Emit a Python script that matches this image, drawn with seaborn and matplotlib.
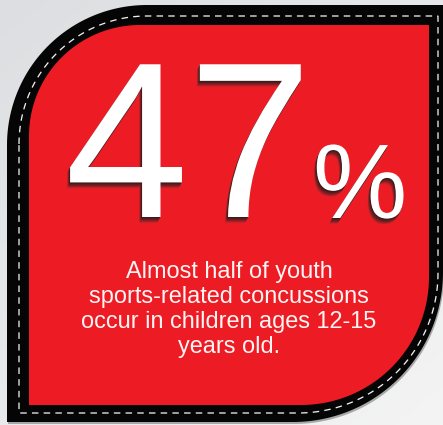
import numpy as np
import seaborn as sns
import matplotlib.pyplot as plt
from matplotlib.path import Path
from matplotlib.patches import PathPatch
import matplotlib.patheffects as pe

# values shown on the card
stat_value = 47
stat_unit = '%'
caption_lines = ['Almost half of youth',
                 'sports-related concussions',
                 'occur in children ages 12-15',
                 'years old.']

sns.set_theme(style='white')
plt.rcParams['font.family'] = ['Liberation Sans', 'DejaVu Sans']

W, H = 443, 425
fig = plt.figure(figsize=(W / 72, H / 72), dpi=72)
ax = fig.add_axes([0, 0, 1, 1])
ax.set_xlim(0, W)
ax.set_ylim(H, 0)
ax.axis('off')

# light gray background, slightly darker at the top left
yy, xx = np.mgrid[0:1:200j, 0:1:200j]
grad = 0.55 * yy + 0.45 * xx
bg = sns.blend_palette(['#dcdee1', '#f4f4f4'], as_cmap=True)
ax.imshow(grad, cmap=bg, extent=[0, W, H, 0], aspect='auto', zorder=0)


def leaf(l, t, r, b, r_tl, r_br, n=60):
    th = np.linspace(0, np.pi / 2, n)
    tl = np.column_stack([l + r_tl - r_tl * np.cos(th), t + r_tl - r_tl * np.sin(th)])
    br = np.column_stack([r - r_br + r_br * np.cos(th), b - r_br + r_br * np.sin(th)])
    pts = np.vstack([tl, [[r, t]], br, [[l, b]], tl[:1]])
    return Path(pts, closed=True)


# soft drop shadow, black frame, stitched line, red face
ax.add_patch(PathPatch(leaf(8, 6, 444, 424, 140, 150), fc='#a8a8a8', ec='none', zorder=1))
ax.add_patch(PathPatch(leaf(7, 5, 443, 422, 140, 150), fc='#050505', ec='none', zorder=2))
ax.add_patch(PathPatch(leaf(19, 16, 438, 413, 128, 140), fc='none', ec='#eeeeee',
                       lw=1.3, ls=(0, (5, 4)), zorder=3))
ax.add_patch(PathPatch(leaf(29, 25, 429, 405, 111, 128), fc='#ed1c24', ec='none', zorder=4))

# extruded shadow behind the big number, fading into the red
layers = sns.blend_palette(['#3a1a1b', '#7c1e22', '#d8222a'], 7)
fx = [pe.SimplePatchShadow(offset=(-0.45 * k, -0.9 * k), shadow_rgbFace=layers[k - 1], alpha=1)
      for k in range(7, 0, -1)] + [pe.Normal()]

ax.text(65, 217, str(stat_value), fontsize=222, color='white', va='baseline', ha='left',
        path_effects=fx, zorder=5)
ax.text(313, 218, stat_unit, fontsize=106, color='white', va='baseline', ha='left',
        path_effects=fx, zorder=5)

# caption: anchored on the baseline of its last line
ax.text(229, 353, '\n'.join(caption_lines), fontsize=23.5, color='#fff4f4',
        va='baseline', ha='center', multialignment='center', linespacing=1.17, zorder=6)

plt.savefig('out.png', dpi=72)
plt.close()
